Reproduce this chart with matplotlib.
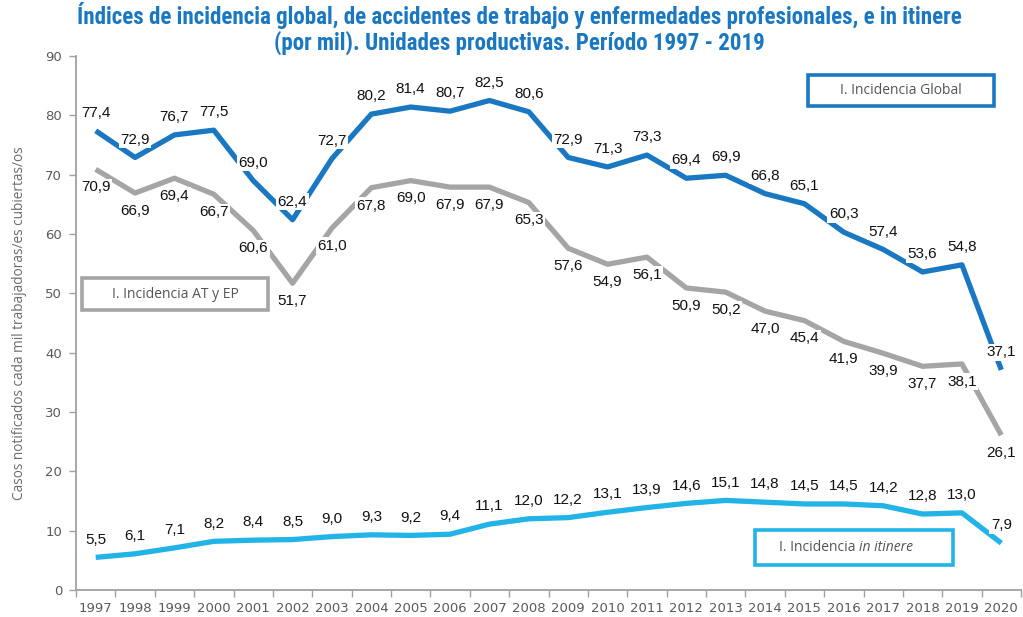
import matplotlib
matplotlib.use("Agg")
import matplotlib.pyplot as plt
from matplotlib.patches import Rectangle

years = [str(y) for y in range(1997, 2021)]
global_idx = [77.4, 72.9, 76.7, 77.5, 69.0, 62.4, 72.7, 80.2, 81.4, 80.7, 82.5, 80.6,
              72.9, 71.3, 73.3, 69.4, 69.9, 66.8, 65.1, 60.3, 57.4, 53.6, 54.8, 37.1]
at_ep_idx = [70.9, 66.9, 69.4, 66.7, 60.6, 51.7, 61.0, 67.8, 69.0, 67.9, 67.9, 65.3,
             57.6, 54.9, 56.1, 50.9, 50.2, 47.0, 45.4, 41.9, 39.9, 37.7, 38.1, 26.1]
itinere_idx = [5.5, 6.1, 7.1, 8.2, 8.4, 8.5, 9.0, 9.3, 9.2, 9.4, 11.1, 12.0,
               12.2, 13.1, 13.9, 14.6, 15.1, 14.8, 14.5, 14.5, 14.2, 12.8, 13.0, 7.9]
yticks = [0, 10, 20, 30, 40, 50, 60, 70, 80, 90]

title_lines = ["Índices de incidencia global, de accidentes de trabajo y enfermedades profesionales, e in itinere",
               "(por mil). Unidades productivas. Período 1997 - 2019"]
ylabel = "Casos notificados cada mil trabajadoras/es cubiertas/os"

c_global = "#1a78c2"
c_at = "#a5a5a5"
c_itin = "#22b4e6"
c_axis = "#a0a0a0"
c_tick = "#5a5a5a"

fig = plt.figure(figsize=(10.23, 6.17), dpi=100)
ax = fig.add_axes([76/1023, 27/617, 945/1023, 534/617])

x = list(range(len(years)))
ax.plot(x, global_idx, color=c_global, lw=3.8, solid_capstyle='butt', zorder=2)
ax.plot(x, at_ep_idx, color=c_at, lw=3.8, solid_capstyle='butt', zorder=2)
ax.plot(x, itinere_idx, color=c_itin, lw=3.8, solid_capstyle='butt', zorder=2)

lab_kw = dict(ha='center', va='center', fontsize=11, family='Liberation Sans', color='#111111',
              zorder=4, bbox=dict(boxstyle='square,pad=0.1', fc='white', ec='none'))
for xi, v in zip(x, global_idx):
    ax.text(xi, v + 3.0, f"{v:.1f}".replace('.', ','), **lab_kw)
for xi, v in zip(x, at_ep_idx):
    ax.text(xi, v - 3.0, f"{v:.1f}".replace('.', ','), **lab_kw)
for xi, v in zip(x, itinere_idx):
    ax.text(xi, v + 3.0, f"{v:.1f}".replace('.', ','), **lab_kw)

ax.set_xlim(-0.5, len(years) - 0.5)
ax.set_ylim(0, 90)
ax.set_yticks(yticks)
ax.set_yticklabels([str(t) for t in yticks])
ax.set_xticks(x)
ax.set_xticklabels(years)
ax.set_xticks([i + 0.5 for i in range(-1, len(years))], minor=True)
ax.tick_params(axis='x', which='major', length=0, pad=9, labelsize=9.5, labelcolor=c_tick)
ax.tick_params(axis='x', which='minor', length=5, color=c_axis, width=1)
ax.tick_params(axis='y', which='major', length=5, color=c_axis, width=1, pad=5,
               labelsize=9.5, labelcolor=c_tick)
for s in ['top', 'right']:
    ax.spines[s].set_visible(False)
for s in ['left', 'bottom']:
    ax.spines[s].set_color(c_axis)
    ax.spines[s].set_linewidth(1.3)

ax.set_ylabel(ylabel, fontsize=9.8, family='Open Sans', color='#6a6a6a')
ax.yaxis.set_label_coords(-0.052, 0.5)

# Legend-like boxes
def box(x0, y0, x1, y1, ec):
    ax.add_patch(Rectangle((x0, y0), x1 - x0, y1 - y0, transform=ax.transAxes,
                           fill=False, ec=ec, lw=2.6, zorder=5, clip_on=False))

txt_kw = dict(transform=ax.transAxes, fontsize=10, family='Open Sans', color='#555555',
              va='center', zorder=6)
box(0.7746, 0.9064, 0.9714, 0.9644, c_global)
ax.text(0.873, 0.9354, "I. Incidencia Global", ha='center', **txt_kw)
box(0.0064, 0.5243, 0.2032, 0.5843, c_at)
ax.text(0.1048, 0.5543, "I. Incidencia AT y EP", ha='center', **txt_kw)
box(0.7185, 0.0468, 0.928, 0.1124, c_itin)
t1 = ax.text(0.7436, 0.0805, "I. Incidencia ", ha='left', **txt_kw)
ax.annotate("in itinere", xy=(1, 0.5), xycoords=t1, va='center', ha='left',
            fontsize=10, family='Open Sans', style='italic', color='#555555', zorder=6)

title_kw = dict(ha='center', va='baseline', fontsize=16.6,
                family=['Roboto Condensed', 'Roboto', 'DejaVu Sans'], weight='bold', color=c_global)
fig.text(0.508, 1 - 24/617, title_lines[0], **title_kw)
fig.text(0.508, 1 - 50/617, title_lines[1], **title_kw)

fig.savefig("out.png", dpi=100)
